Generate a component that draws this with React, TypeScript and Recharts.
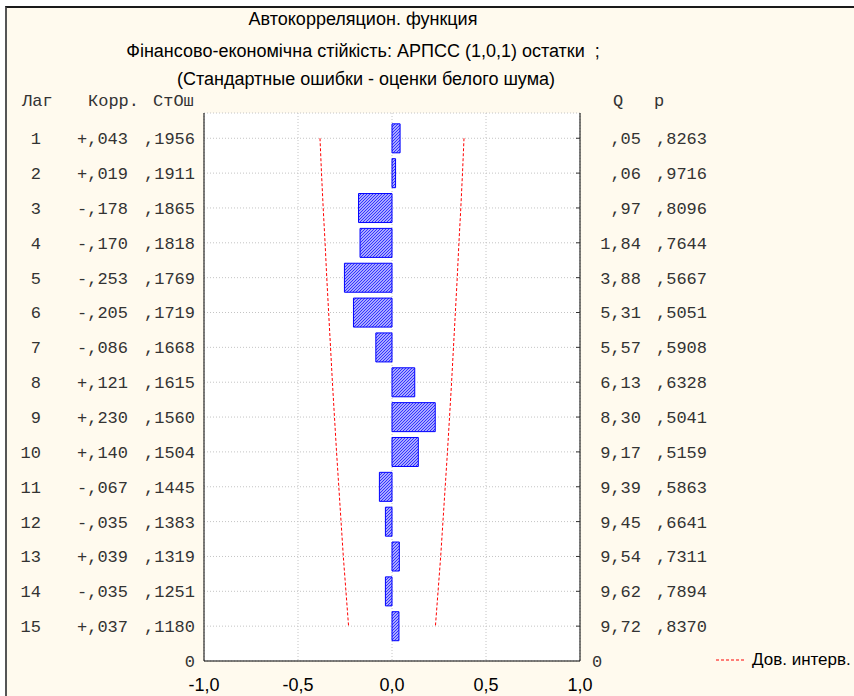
import { ComposedChart, Bar, Line, XAxis, YAxis, CartesianGrid, Legend } from 'recharts'

const lags = [1, 2, 3, 4, 5, 6, 7, 8, 9, 10, 11, 12, 13, 14, 15]
const corr = [0.043, 0.019, -0.178, -0.17, -0.253, -0.205, -0.086, 0.121, 0.23, 0.14, -0.067, -0.035, 0.039, -0.035, 0.037]
const stErr = [0.1956, 0.1911, 0.1865, 0.1818, 0.1769, 0.1719, 0.1668, 0.1615, 0.156, 0.1504, 0.1445, 0.1383, 0.1319, 0.1251, 0.118]
const qStat = [0.05, 0.06, 0.97, 1.84, 3.88, 5.31, 5.57, 6.13, 8.3, 9.17, 9.39, 9.45, 9.54, 9.62, 9.72]
const pValue = [0.8263, 0.9716, 0.8096, 0.7644, 0.5667, 0.5051, 0.5908, 0.6328, 0.5041, 0.5159, 0.5863, 0.6641, 0.7311, 0.7894, 0.837]
// confidence band
const upper = [0.383, 0.375, 0.366, 0.356, 0.347, 0.337, 0.327, 0.317, 0.306, 0.295, 0.283, 0.271, 0.259, 0.245, 0.231]
const lower = [-0.383, -0.375, -0.366, -0.356, -0.347, -0.337, -0.327, -0.317, -0.306, -0.295, -0.283, -0.271, -0.259, -0.245, -0.231]
const xTicks = [-1, -0.5, 0, 0.5, 1]
const yTicks = [1, 2, 3, 4, 5, 6, 7, 8, 9, 10, 11, 12, 13, 14, 15, 16]

const data = lags.map((lag, i) => ({ lag, corr: corr[i], hi: upper[i], lo: lower[i] }))

const mono = '"Liberation Mono", "DejaVu Sans Mono", monospace'
const sans = '"Liberation Sans", Arial, sans-serif'
const cream = '#fffaee'

const fmtCorr = (v: number) => (v >= 0 ? '+' : '-') + ',' + Math.abs(v).toFixed(3).slice(2)
const fmtFrac = (v: number, d: number) => ',' + v.toFixed(d).slice(2)
const fmtQ = (v: number) => (v < 1 ? fmtFrac(v, 2) : v.toFixed(2).replace('.', ','))

const LeftTick = ({ y, payload }: any) => {
  const v = payload.value
  if (v === 16) {
    return (
      <text x={195} y={y} dy="0.35em" textAnchor="end" fontFamily={mono} fontSize={17} fill="#333">0</text>
    )
  }
  const i = v - 1
  return (
    <g fontFamily={mono} fontSize={17} fill="#333">
      <text x={41} y={y} dy="0.35em" textAnchor="end">{v}</text>
      <text x={128} y={y} dy="0.35em" textAnchor="end">{fmtCorr(corr[i])}</text>
      <text x={195} y={y} dy="0.35em" textAnchor="end">{fmtFrac(stErr[i], 4)}</text>
    </g>
  )
}

const RightTick = ({ y, payload }: any) => {
  const v = payload.value
  if (v === 16) {
    return (
      <text x={592} y={y} dy="0.35em" fontFamily={mono} fontSize={17} fill="#333">0</text>
    )
  }
  const i = v - 1
  return (
    <g fontFamily={mono} fontSize={17} fill="#333">
      <line x1={576} x2={580} y1={y} y2={y} stroke="#333" />
      <text x={641} y={y} dy="0.35em" textAnchor="end">{fmtQ(qStat[i])}</text>
      <text x={707} y={y} dy="0.35em" textAnchor="end">{fmtFrac(pValue[i], 4)}</text>
    </g>
  )
}

const BottomTick = ({ x, payload }: any) => (
  <text x={x} y={685} dy="0.35em" textAnchor="middle" fontFamily={sans} fontSize={18} fill="#000">
    {payload.value.toFixed(1).replace('.', ',')}
  </text>
)

const LegendBox = () => (
  <div style={{ display: 'flex', alignItems: 'center', fontFamily: sans, fontSize: 17, color: '#000', whiteSpace: 'nowrap' }}>
    <svg width={30} height={10} style={{ marginRight: 8 }}>
      <line x1={2} x2={30} y1={5} y2={5} stroke="#ff0000" strokeDasharray="3 2" />
    </svg>
    Дов. интерв.
  </div>
)

const App = () => {
  return (
    <div style={{ position: 'absolute', left: 0, top: 0, width: 854, height: 696, background: '#fff', overflow: 'hidden' }}>
      <div
        style={{
          position: 'absolute', left: 5, top: 6, width: 860, height: 700, background: cream,
          borderTop: '2px solid #1a1a1a', borderLeft: '2px solid #555',
        }}
      />
      <div style={{ position: 'absolute', left: 0, top: 0, width: 854, fontFamily: sans, fontSize: 18, color: '#000' }}>
        <div style={{ position: 'absolute', top: 9, left: 0, width: 726, textAlign: 'center' }}>Автокорреляцион. функция</div>
        <div style={{ position: 'absolute', top: 41, left: 0, width: 726, textAlign: 'center', whiteSpace: 'pre' }}>Фінансово-економічна стійкість: АРПСС (1,0,1) остатки  ;</div>
        <div style={{ position: 'absolute', top: 69, left: 0, width: 732, textAlign: 'center' }}>(Стандартные ошибки - оценки белого шума)</div>
      </div>
      <div style={{ position: 'absolute', left: 0, top: 92, fontFamily: mono, fontSize: 17, color: '#333', whiteSpace: 'pre' }}>
        <span style={{ position: 'absolute', left: 22 }}>Лаг</span>
        <span style={{ position: 'absolute', left: 88 }}>Корр.</span>
        <span style={{ position: 'absolute', left: 153 }}>СтОш</span>
        <span style={{ position: 'absolute', left: 613 }}>Q</span>
        <span style={{ position: 'absolute', left: 654 }}>p</span>
      </div>
      <ComposedChart
        width={854}
        height={696}
        layout="vertical"
        data={data}
        margin={{ top: 113, right: 0, bottom: 0, left: 0 }}
        style={{ position: 'absolute', left: 0, top: 0 }}
      >
        <defs>
          <pattern id="hatch" patternUnits="userSpaceOnUse" width={3} height={3}>
            <rect width={3} height={3} fill="#dcdcff" />
            <path d="M-1,1 l2,-2 M0,3 l3,-3 M2,4 l2,-2" stroke="#2a2aff" strokeWidth={1.1} />
          </pattern>
        </defs>
        <CartesianGrid yAxisId="left" stroke="#c4c4c4" strokeDasharray="1 2" fill="#fff" />
        <XAxis
          type="number"
          domain={[-1, 1]}
          ticks={xTicks}
          interval={0}
          height={35}
          axisLine={{ stroke: '#000' }}
          tickLine={false}
          tick={BottomTick}
        />
        <XAxis xAxisId="top" type="number" orientation="top" domain={[-1, 1]} height={0} axisLine={{ stroke: '#000' }} tick={false} tickLine={false} />
        <YAxis
          yAxisId="left"
          type="number"
          dataKey="lag"
          domain={[0.275, 16]}
          ticks={yTicks}
          interval={0}
          width={204}
          axisLine={{ stroke: '#000' }}
          tickLine={false}
          tick={LeftTick}
          allowDataOverflow
        />
        <YAxis
          yAxisId="right"
          orientation="right"
          type="number"
          dataKey="lag"
          domain={[0.275, 16]}
          ticks={yTicks}
          interval={0}
          width={274}
          axisLine={{ stroke: '#000' }}
          tickLine={false}
          tick={RightTick}
          allowDataOverflow
        />
        <Bar yAxisId="left" dataKey="corr" barSize={29} fill="url(#hatch)" stroke="#0000ff" strokeWidth={1} isAnimationActive={false} legendType="none" />
        <Line yAxisId="right" dataKey="hi" stroke="#ff0000" strokeDasharray="3 2" dot={false} strokeWidth={1} isAnimationActive={false} legendType="none" />
        <Line yAxisId="left" dataKey="lo" stroke="#ff0000" strokeDasharray="3 2" dot={false} strokeWidth={1} isAnimationActive={false} />
        <Legend
          layout="vertical"
          align="center"
          verticalAlign="middle"
          content={LegendBox}
          wrapperStyle={{ position: 'absolute', left: 714, top: 650, width: 160 }}
        />
      </ComposedChart>
    </div>
  )
}

export default App
